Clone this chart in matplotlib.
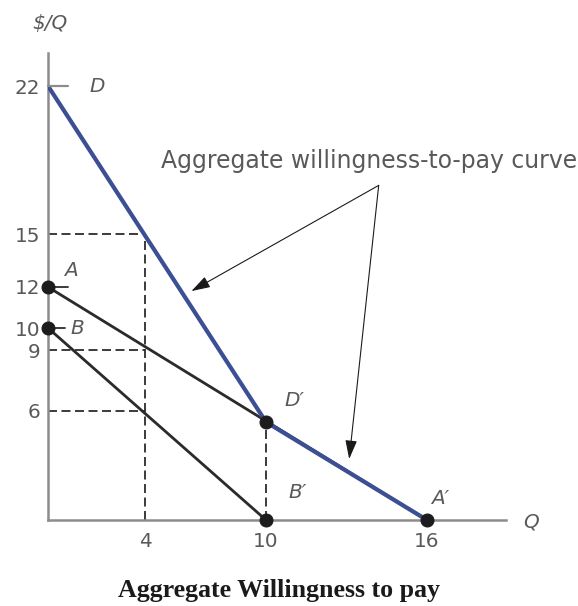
import numpy as np
import matplotlib
matplotlib.use('Agg')
import matplotlib.pyplot as plt

# individual willingness-to-pay lines and their vertical sum
q_a = [0, 16]
p_a = [12, 0]
q_b = [0, 10]
p_b = [10, 0]
q_agg = [0, 10, 16]
p_agg = [22, 4.5, 0]

# marked points: A, B, D', B', A'
q_dots = [0, 0, 10, 10, 16]
p_dots = [12, 10, 4.5, 0, 0]

# read-off at Q = 4 (aggregate, A, B) and the kink at Q = 10
q_read = 4
p_read = [15, 9, 6]
q_kink = 10
p_kink = 4.5

x_ticks = [4, 10, 16]
y_ticks = [6, 9, 10, 12, 15, 22]

# schematic axes: each labelled value sits at a fixed spot, straight segments between
x_knots = [-5, 0, 4, 10, 16, 19, 30]
x_pix = [-52, 48, 145, 266, 427, 506, 800]
y_knots = [-5, 0, 4.5, 6, 9, 10, 12, 15, 22, 23.5, 40]
y_pix = [606 - v for v in [620, 520, 422, 411, 350, 328, 287, 234, 86, 53, -300]]

def x_fwd(v): return np.interp(v, x_knots, x_pix)
def x_inv(v): return np.interp(v, x_pix, x_knots)
def y_fwd(v): return np.interp(v, y_knots, y_pix)
def y_inv(v): return np.interp(v, y_pix, y_knots)

grey = '#8c8c8c'
txt = '#595959'
blue = '#3c4f94'
dark = '#2b2b2b'

W, H = 578, 606
fig = plt.figure(figsize=(W / 72, H / 72), dpi=72)
ax = fig.add_axes([48 / W, 86 / H, 458 / W, 467 / H])
ax.set_xscale('function', functions=(x_fwd, x_inv))
ax.set_yscale('function', functions=(y_fwd, y_inv))
ax.set_xlim(0, 19)
ax.set_ylim(0, 23.5)

for s in ['top', 'right']:
    ax.spines[s].set_visible(False)
for s in ['left', 'bottom']:
    ax.spines[s].set_color(grey)
    ax.spines[s].set_linewidth(2.5)

ax.set_xticks(x_ticks)
ax.set_yticks(y_ticks)
ax.xaxis.set_minor_locator(matplotlib.ticker.NullLocator())
ax.yaxis.set_minor_locator(matplotlib.ticker.NullLocator())
ax.set_xticklabels([str(v) for v in x_ticks])
ax.set_yticklabels([str(v) for v in y_ticks])
ax.tick_params(axis='x', length=0, pad=12, labelsize=20, labelcolor=txt)
ax.tick_params(axis='y', length=0, pad=8, labelsize=20, labelcolor=txt)

# dashed read-off lines
dash = dict(color=dark, lw=1.8, ls=(0, (5, 2.5)), zorder=1)
ax.plot([q_read, q_read], [0, max(p_read)], **dash)
for p in p_read:
    ax.plot([0, q_read], [p, p], **dash)
ax.plot([q_kink, q_kink], [0, p_kink], **dash)

ax.plot(q_a, p_a, color=dark, lw=2.8, zorder=2, solid_capstyle='butt')
ax.plot(q_b, p_b, color=dark, lw=2.8, zorder=2, solid_capstyle='butt')
ax.plot(q_agg, p_agg, color=blue, lw=4.2, zorder=3, solid_capstyle='butt')
ax.plot(q_dots, p_dots, 'o', ms=13, color='#1c1c1c', zorder=4, clip_on=False)

# short leader ticks next to the curve names
lead = dict(arrowstyle='-', color=grey, lw=2.2, shrinkA=0, shrinkB=0)
ax.annotate('', xy=(0, 22), xytext=(20, 0), textcoords='offset points', arrowprops=lead)
ax.annotate('', xy=(0, 12), xytext=(20, 0), textcoords='offset points', arrowprops=dict(lead, color=dark, lw=1.8))
ax.annotate('', xy=(0, 10), xytext=(17, 0), textcoords='offset points', arrowprops=dict(lead, color=dark, lw=1.8))

lab = dict(textcoords='offset points', ha='center', va='center', fontsize=20,
           style='italic', color=txt, annotation_clip=False)
ax.annotate('D', xy=(0, 22), xytext=(49, 0), **lab)
ax.annotate('A', xy=(0, 12), xytext=(23, 17), **lab)
ax.annotate('B', xy=(0, 10), xytext=(29, -1), **lab)
ax.annotate('D\u2032', xy=(q_kink, p_kink), xytext=(28, 21), **lab)
ax.annotate('B\u2032', xy=(10, 0), xytext=(32, 28), **lab)
ax.annotate('A\u2032', xy=(16, 0), xytext=(13, 22), **lab)
ax.annotate('Q', xy=(1, 0), xycoords='axes fraction', xytext=(25, -2), **lab)
ax.annotate('$/Q', xy=(0, 1), xycoords='axes fraction', xytext=(2, 30), **lab)

# callout for the aggregate curve
ax.text(4.8, 18.1, 'Aggregate willingness-to-pay curve', fontsize=23.5, color=txt,
        ha='left', va='baseline')
arr = dict(arrowstyle='-|>,head_length=0.8,head_width=0.25', color='#1a1a1a',
           lw=1.1, mutation_scale=20, shrinkA=0, shrinkB=0)
ax.annotate('', xy=(6.3, 11.8), xytext=(14.2, 17.3), arrowprops=arr)
ax.annotate('', xy=(13.1, 2.8), xytext=(14.2, 17.3), arrowprops=arr)

fig.text(279 / W, 9 / H, 'Aggregate Willingness to pay', ha='center', va='baseline',
         family='Liberation Serif', weight='bold', fontsize=26, color='#1a1a1a')

fig.savefig('out.png', dpi=72)
